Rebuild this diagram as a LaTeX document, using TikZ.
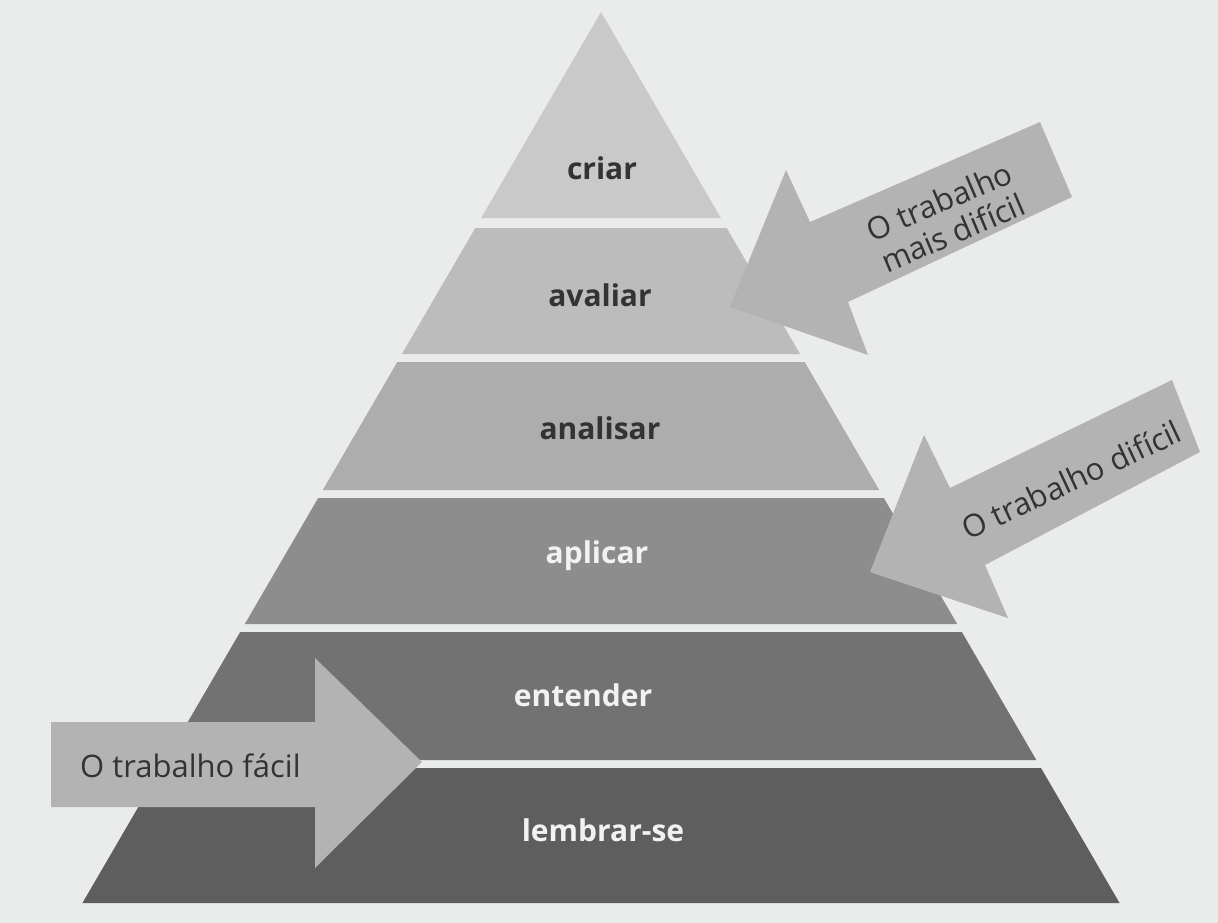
\documentclass[tikz,border=0pt]{standalone}
\usepackage{fontspec}
\setmainfont{Open Sans}
\definecolor{bg}{HTML}{EAECEB}
\definecolor{cCriar}{HTML}{C9C9C9}
\definecolor{cAvaliar}{HTML}{BCBCBC}
\definecolor{cAnalisar}{HTML}{ADADAD}
\definecolor{cAplicar}{HTML}{8D8D8D}
\definecolor{cEntender}{HTML}{727272}
\definecolor{cLembrar}{HTML}{5E5E5E}
\definecolor{cArrow}{HTML}{B3B3B3}
\definecolor{darktxt}{HTML}{333333}
\definecolor{lighttxt}{HTML}{F2F2F2}
\newcommand{\pyrband}[3]{%
  \fill[#3] ({601-0.582*(#1-12)},#1) -- ({601+0.582*(#1-12)},#1) -- ({601+0.582*(#2-12)},#2) -- ({601-0.582*(#2-12)},#2) -- cycle;}
\tikzset{
  lvl/.style={font=\fontsize{30}{33}\selectfont\bfseries},
  lvldark/.style={lvl, text=darktxt},
  lvllight/.style={lvl, text=lighttxt},
  arrowshape/.style={fill=cArrow},
  arrowtxt/.style={font=\fontsize{31}{34}\selectfont, text=darktxt, align=center, inner sep=0pt}
}
\begin{document}
\begin{tikzpicture}[x=1pt,y=-1pt]
\useasboundingbox (0,0) rectangle (1218,923);
\fill[bg] (0,0) rectangle (1218,923);
% pyramid bands
\pyrband{12}{218}{cCriar}
\pyrband{228}{354}{cAvaliar}
\pyrband{362}{490}{cAnalisar}
\pyrband{498}{624}{cAplicar}
\pyrband{632}{760}{cEntender}
\pyrband{768}{903}{cLembrar}
% labels
\node[lvldark] (criar) at (602,168) {criar};
\node[lvldark] (avaliar) at (600,295) {avaliar};
\node[lvldark] (analisar) at (600,428) {analisar};
\node[lvllight] (aplicar) at (597,556) {aplicar};
\node[lvllight] (entender) at (583,695) {entender};
\node[lvllight] (lembrar) at (603,830) {lembrar-se};
% arrows
\fill[arrowshape] (1040,122) -- (810,222) -- (786,170) -- (730,307) -- (868,355) -- (848,302) -- (1072,197) -- cycle;
\fill[arrowshape] (1172,380) -- (950,488) -- (924,435) -- (870,572) -- (1008,618) -- (985,565) -- (1200,452) -- cycle;
\fill[arrowshape] (51,722) -- (315,722) -- (315,658) -- (422,762) -- (315,868) -- (315,807) -- (51,807) -- cycle;
% arrow texts
\node[arrowtxt, rotate=23] (hardest) at (946,217) {O trabalho\\mais difícil};
\node[arrowtxt, rotate=25] (hard) at (1071,480) {O trabalho difícil};
\node[arrowtxt, anchor=west] (easy) at (80,766) {O trabalho fácil};
\end{tikzpicture}
\end{document}
